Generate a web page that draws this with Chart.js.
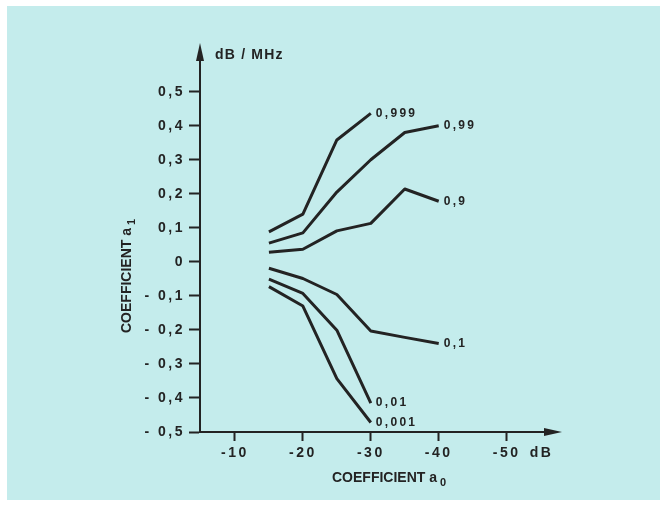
<!DOCTYPE html>
<html>
<head>
<meta charset="utf-8">
<script src="https://cdn.jsdelivr.net/npm/chart.js@4.4.1/dist/chart.umd.min.js"></script>
<style>
html,body{margin:0;padding:0;background:#fff;}
#wrap{width:665px;height:509px;position:relative;}
</style>
</head>
<body>
<div id="wrap"><canvas id="c" width="665" height="509"></canvas></div>
<script>
// ---- data ----
const a0Values = [-15, -20, -25, -30, -35, -40];
const seriesNames = ["0,999", "0,99", "0,9", "0,1", "0,01", "0,001"];
const s0999 = [0.088, 0.14, 0.358, 0.436];
const s099 = [0.055, 0.085, 0.205, 0.30, 0.38, 0.40];
const s09 = [0.028, 0.037, 0.091, 0.113, 0.214, 0.178];
const s01 = [-0.019, -0.049, -0.096, -0.203, -0.222, -0.24];
const s001 = [-0.051, -0.093, -0.201, -0.415];
const s0001 = [-0.073, -0.13, -0.343, -0.472];
const xTickValues = [-10, -20, -30, -40, -50];
const xTickLabels = ["-10", "-20", "-30", "-40", "-50"];
const yTickValues = [0.5, 0.4, 0.3, 0.2, 0.1, 0, -0.1, -0.2, -0.3, -0.4, -0.5];
const yTickLabels = ["0,5", "0,4", "0,3", "0,2", "0,1", "0", "- 0,1", "- 0,2", "- 0,3", "- 0,4", "- 0,5"];
const yUnit = "dB / MHz";
const xUnit = "dB";
const xTitle = ["COEFFICIENT a", "0"];
const yTitle = ["COEFFICIENT a", "1"];

const allSeries = [s0999, s099, s09, s01, s001, s0001];
const INK = '#232323';
const FONT = '"Liberation Sans", Arial, sans-serif';

const datasets = allSeries.map((s, i) => ({
  label: seriesNames[i],
  data: s.map((v, j) => ({x: a0Values[j], y: v})),
  borderColor: INK,
  borderWidth: 3,
  pointRadius: 0,
  tension: 0,
  fill: false,
  borderJoinStyle: 'round',
  borderCapStyle: 'butt'
}));

const decor = {
  id: 'decor',
  beforeDraw(chart) {
    const ctx = chart.ctx;
    ctx.save();
    ctx.fillStyle = '#ffffff';
    ctx.fillRect(0, 0, chart.width, chart.height);
    ctx.fillStyle = '#c4ecec';
    ctx.fillRect(7, 6, 653, 494);
    ctx.restore();
    ctx.letterSpacing = '2.5px';
  },
  afterDraw(chart) {
    const ctx = chart.ctx;
    const ca = chart.chartArea;
    ctx.save();
    ctx.fillStyle = INK;
    // arrowheads
    ctx.beginPath();
    ctx.moveTo(ca.left - 4, ca.top + 1);
    ctx.lineTo(ca.left + 4, ca.top + 1);
    ctx.lineTo(ca.left, ca.top - 17);
    ctx.closePath();
    ctx.fill();
    ctx.beginPath();
    ctx.moveTo(ca.right - 1, ca.bottom - 4);
    ctx.lineTo(ca.right - 1, ca.bottom + 4);
    ctx.lineTo(ca.right + 17, ca.bottom);
    ctx.closePath();
    ctx.fill();
    // units
    ctx.textBaseline = 'middle';
    ctx.textAlign = 'left';
    ctx.letterSpacing = '1.2px';
    ctx.font = 'bold 14px ' + FONT;
    ctx.fillText(yUnit, ca.left + 15, 55);
    const xs = chart.scales.x;
    ctx.letterSpacing = '2.5px';
    ctx.fillText(xUnit, xs.getPixelForValue(-50) + 23, 453);
    // x title
    ctx.letterSpacing = '0px';
    ctx.font = 'bold 14px ' + FONT;
    ctx.fillText(xTitle[0], 332, 478);
    let w = ctx.measureText(xTitle[0]).width;
    ctx.font = 'bold 11px ' + FONT;
    ctx.fillText(xTitle[1], 332 + w + 3, 483);
    // y title rotated
    ctx.save();
    ctx.translate(127, 333);
    ctx.rotate(-Math.PI / 2);
    ctx.font = 'bold 14px ' + FONT;
    ctx.fillText(yTitle[0], 0, 0);
    w = ctx.measureText(yTitle[0]).width;
    ctx.font = 'bold 11px ' + FONT;
    ctx.fillText(yTitle[1], w + 3, 5);
    ctx.restore();
    // series end labels
    ctx.font = 'bold 12px ' + FONT;
    ctx.letterSpacing = '2.3px';
    chart.data.datasets.forEach((ds, i) => {
      const meta = chart.getDatasetMeta(i);
      const p = meta.data[meta.data.length - 1];
      ctx.fillText(ds.label, p.x + 5, p.y);
    });
    ctx.restore();
  }
};

new Chart(document.getElementById('c'), {
  type: 'line',
  data: {datasets},
  plugins: [decor],
  options: {
    responsive: false,
    animation: false,
    devicePixelRatio: 1,
    layout: {padding: {left: 0, right: 120, top: 60, bottom: 0}},
    plugins: {legend: {display: false}, tooltip: {enabled: false}},
    scales: {
      x: {
        type: 'linear',
        reverse: true,
        min: -55.65,
        max: -4.85,
        afterFit(s) { s.height = 77; },
        afterBuildTicks(s) { s.ticks = xTickValues.map(v => ({value: v})); },
        grid: {drawOnChartArea: false, drawTicks: true, tickLength: 9, tickColor: INK, tickWidth: 2},
        border: {display: true, color: INK, width: 2},
        ticks: {
          autoSkip: false, maxRotation: 0, padding: 4, color: INK,
          font: {family: FONT, size: 14, weight: 'bold'},
          callback(v) { const k = xTickValues.indexOf(v); return k >= 0 ? xTickLabels[k] : ''; }
        }
      },
      y: {
        type: 'linear',
        min: -0.5,
        max: 0.593,
        afterFit(s) { s.width = 200; },
        afterBuildTicks(s) { s.ticks = yTickValues.map(v => ({value: v})); },
        grid: {drawOnChartArea: false, drawTicks: true, tickLength: 11, tickColor: INK, tickWidth: 2},
        border: {display: true, color: INK, width: 2},
        ticks: {
          autoSkip: false, padding: 4, color: INK,
          font: {family: FONT, size: 14, weight: 'bold'},
          callback(v) {
            const k = yTickValues.findIndex(t => Math.abs(t - v) < 1e-6);
            return k >= 0 ? yTickLabels[k] : '';
          }
        }
      }
    }
  }
});
</script>
</body>
</html>
